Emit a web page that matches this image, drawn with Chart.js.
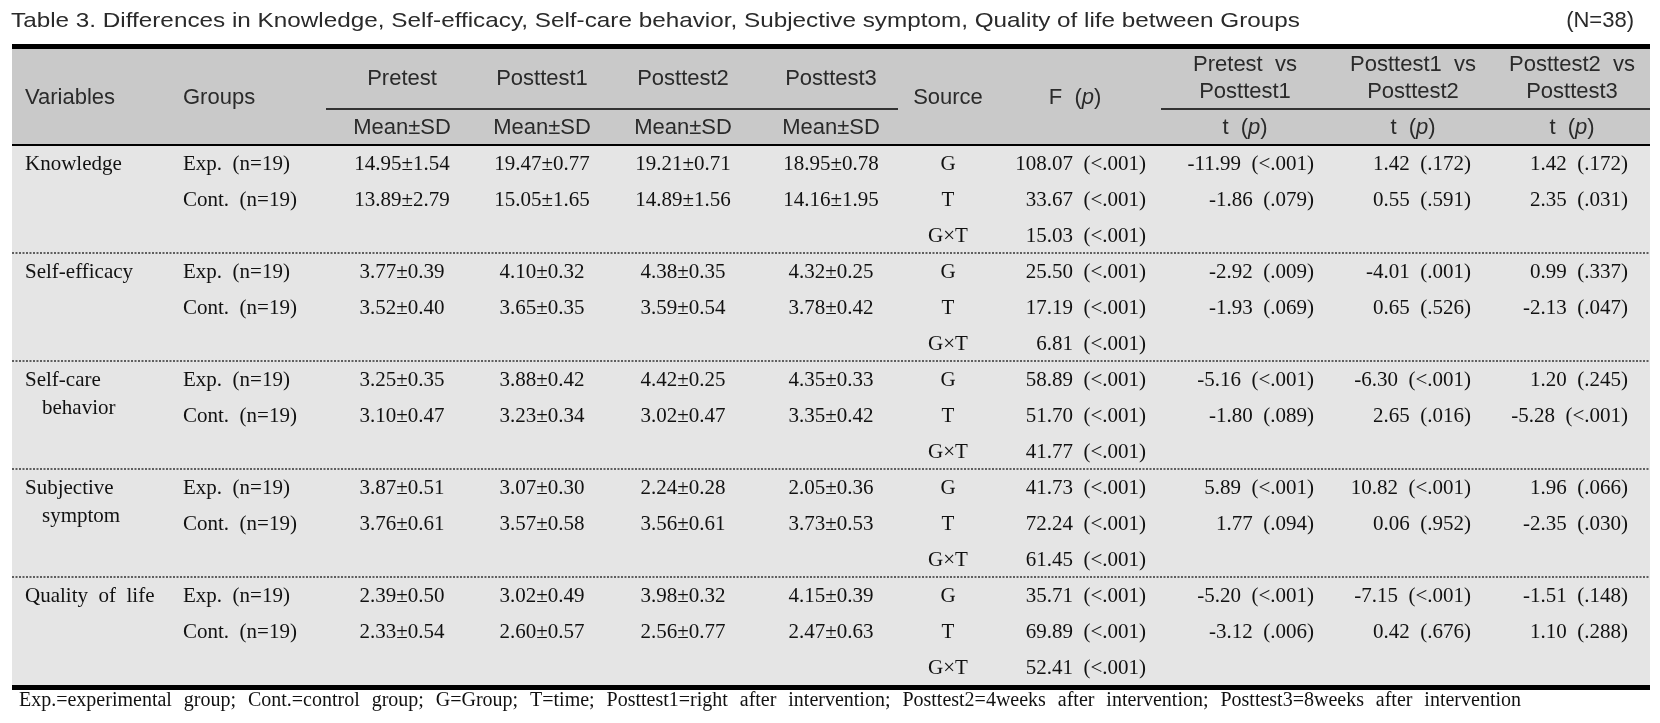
<!DOCTYPE html>
<html lang="en">
<head>
<meta charset="UTF-8">
<title>Table 3</title>
<script src="https://cdn.jsdelivr.net/npm/chart.js"></script>
<style>
  body { margin: 0; background: #fff; }
  canvas { display: block; }
</style>
</head>
<body>
<canvas id="table" width="1660" height="723"></canvas>
<script>
// ---- table content ----
const titleText = 'Table 3. Differences in Knowledge, Self-efficacy, Self-care behavior, Subjective symptom, Quality of life between Groups';
const sampleText = '(N=38)';
const footText = 'Exp.=experimental group; Cont.=control group; G=Group; T=time; Posttest1=right after intervention; Posttest2=4weeks after intervention; Posttest3=8weeks after intervention';

const variables = [['Knowledge'], ['Self-efficacy'], ['Self-care', 'behavior'], ['Subjective', 'symptom'], ['Quality  of  life']];
const groups = ['Exp.  (n=19)', 'Cont.  (n=19)'];
const sources = ['G', 'T', 'G×T'];
const timeLabels = ['Pretest', 'Posttest1', 'Posttest2', 'Posttest3'];
const compareLabels = [['Pretest  vs', 'Posttest1'], ['Posttest1  vs', 'Posttest2'], ['Posttest2  vs', 'Posttest3']];

// rows: Knowledge Exp, Knowledge Cont, Self-efficacy Exp, ... Quality of life Cont
const pretestMean = [14.95, 13.89, 3.77, 3.52, 3.25, 3.10, 3.87, 3.76, 2.39, 2.33];
const pretestSD   = [1.54, 2.79, 0.39, 0.40, 0.35, 0.47, 0.51, 0.61, 0.50, 0.54];
const post1Mean   = [19.47, 15.05, 4.10, 3.65, 3.88, 3.23, 3.07, 3.57, 3.02, 2.60];
const post1SD     = [0.77, 1.65, 0.32, 0.35, 0.42, 0.34, 0.30, 0.58, 0.49, 0.57];
const post2Mean   = [19.21, 14.89, 4.38, 3.59, 4.42, 3.02, 2.24, 3.56, 3.98, 2.56];
const post2SD     = [0.71, 1.56, 0.35, 0.54, 0.25, 0.47, 0.28, 0.61, 0.32, 0.77];
const post3Mean   = [18.95, 14.16, 4.32, 3.78, 4.35, 3.35, 2.05, 3.73, 4.15, 2.47];
const post3SD     = [0.78, 1.95, 0.25, 0.42, 0.33, 0.42, 0.36, 0.53, 0.39, 0.63];

// F per variable: G, T, GxT
const fValues = [108.07, 33.67, 15.03, 25.50, 17.19, 6.81, 58.89, 51.70, 41.77, 41.73, 72.24, 61.45, 35.71, 69.89, 52.41];
const fP      = ['<.001', '<.001', '<.001', '<.001', '<.001', '<.001', '<.001', '<.001', '<.001', '<.001', '<.001', '<.001', '<.001', '<.001', '<.001'];

// paired t: rows as in the means
const t1Values = [-11.99, -1.86, -2.92, -1.93, -5.16, -1.80, 5.89, 1.77, -5.20, -3.12];
const t1P      = ['<.001', '.079', '.009', '.069', '<.001', '.089', '<.001', '.094', '<.001', '.006'];
const t2Values = [1.42, 0.55, -4.01, 0.65, -6.30, 2.65, 10.82, 0.06, -7.15, 0.42];
const t2P      = ['.172', '.591', '.001', '.526', '<.001', '.016', '<.001', '.952', '<.001', '.676'];
const t3Values = [1.42, 2.35, 0.99, -2.13, 1.20, -5.28, 1.96, -2.35, -1.51, 1.10];
const t3P      = ['.172', '.031', '.337', '.047', '.245', '<.001', '.066', '.030', '.148', '.288'];

// ---- layout ----
const W = 1660, H = 723;
const tableL = 12, tableR = 1650;
const headTop = 49, subLineY = 109, headBottom = 145;
const blockH = 108, rowGap = 35.8, firstRowOff = 19.5;
const bodyBottom = headBottom + 5 * blockH;
const varX = 25, groupX = 183;
const meanX = [402, 542, 683, 831];
const sourceX = 948, fRight = 1146, fHeadX = 1075;
const tRight = [1314, 1471, 1628];
const tHeadX = [1245, 1413, 1572];
const headLine1 = 65, headLine2 = 92, headMid = 98, headSub = 128;

const SANS = '"Liberation Sans", Arial, sans-serif';
const SERIF = '"Liberation Serif", "Times New Roman", serif';

const rowY = (v, i) => headBottom + v * blockH + firstRowOff + i * rowGap;
const fmt = v => v.toFixed(2);

// ---- cells (one point per text) ----
const cells = [];
const add = (x, y, text, style, align) => cells.push({ x, y, text, style, align });

add(11, 21, titleText, 'title', 'left');
add(1634, 21, sampleText, 'head', 'right');
add(varX, headMid, 'Variables', 'head', 'left');
add(groupX, headMid, 'Groups', 'head', 'left');
timeLabels.forEach((t, i) => {
  add(meanX[i], 79, t, 'head', 'center');
  add(meanX[i], headSub, 'Mean±SD', 'head', 'center');
});
add(sourceX, headMid, 'Source', 'head', 'center');
add(fHeadX, headMid, 'F  (*p*)', 'head', 'center');
compareLabels.forEach((c, i) => {
  add(tHeadX[i], headLine1, c[0], 'head', 'center');
  add(tHeadX[i], headLine2, c[1], 'head', 'center');
  add(tHeadX[i], headSub, 't  (*p*)', 'head', 'center');
});

const means = [[pretestMean, pretestSD], [post1Mean, post1SD], [post2Mean, post2SD], [post3Mean, post3SD]];
const tests = [[t1Values, t1P], [t2Values, t2P], [t3Values, t3P]];
variables.forEach((lines, v) => {
  add(varX, rowY(v, 0), lines[0], 'body', 'left');
  if (lines[1]) add(varX + 17, rowY(v, 0) + 28, lines[1], 'body', 'left');
  sources.forEach((s, k) => {
    add(sourceX, rowY(v, k), s, 'body', 'center');
    const f = v * 3 + k;
    add(fRight, rowY(v, k), fmt(fValues[f]) + '  (' + fP[f] + ')', 'body', 'right');
  });
  groups.forEach((g, k) => {
    const r = v * 2 + k;
    add(groupX, rowY(v, k), g, 'body', 'left');
    means.forEach(([m, sd], i) => add(meanX[i], rowY(v, k), fmt(m[r]) + '±' + fmt(sd[r]), 'body', 'center'));
    tests.forEach(([tv, tp], i) => add(tRight[i], rowY(v, k), fmt(tv[r]) + '  (' + tp[r] + ')', 'body', 'right'));
  });
});
add(19, 701, footText, 'foot', 'left');

// ---- drawing ----
const fonts = {
  title: ['21px ' + SANS, 'italic 21px ' + SANS],
  head: ['22px ' + SANS, 'italic 22px ' + SANS],
  body: ['21px ' + SERIF, 'italic 21px ' + SERIF],
  foot: ['20px ' + SERIF, 'italic 20px ' + SERIF]
};
const fitWidth = { title: 1289 };
const justifyWidth = { foot: 1502 };

function drawRich(ctx, cell, px, py) {
  const [norm, ital] = fonts[cell.style];
  const parts = cell.text.split('*').map((t, i) => ({ t, font: i % 2 ? ital : norm }));
  let w = 0;
  parts.forEach(p => { ctx.font = p.font; p.w = ctx.measureText(p.t).width; w += p.w; });
  ctx.save();
  ctx.textBaseline = 'middle';
  ctx.textAlign = 'left';
  ctx.fillStyle = cell.style === 'body' || cell.style === 'foot' ? '#111' : '#2a2a2a';
  if (justifyWidth[cell.style]) {
    ctx.font = norm;
    const words = cell.text.split(' ');
    const wordsW = words.reduce((s, t) => s + ctx.measureText(t).width, 0);
    const gap = (justifyWidth[cell.style] - wordsW) / (words.length - 1);
    let cx = px;
    words.forEach(t => { ctx.fillText(t, cx, py); cx += ctx.measureText(t).width + gap; });
    ctx.restore();
    return;
  }
  let sx = 1;
  if (fitWidth[cell.style]) { sx = fitWidth[cell.style] / w; }
  let x0 = cell.align === 'center' ? px - w * sx / 2 : cell.align === 'right' ? px - w * sx : px;
  ctx.translate(x0, py);
  ctx.scale(sx, 1);
  let cx = 0;
  parts.forEach(p => { ctx.font = p.font; ctx.fillText(p.t, cx, 0); cx += p.w; });
  ctx.restore();
}

const tablePlugin = {
  id: 'tablePlugin',
  beforeDatasetsDraw(chart) {
    const { ctx, scales: { x, y } } = chart;
    const hline = (x1, x2, yy, lw, dash) => {
      ctx.beginPath();
      ctx.lineWidth = lw;
      ctx.setLineDash(dash || []);
      ctx.moveTo(x.getPixelForValue(x1), y.getPixelForValue(yy));
      ctx.lineTo(x.getPixelForValue(x2), y.getPixelForValue(yy));
      ctx.stroke();
    };
    ctx.save();
    ctx.fillStyle = '#fff';
    ctx.fillRect(0, 0, chart.width, chart.height);
    const l = x.getPixelForValue(tableL), r = x.getPixelForValue(tableR);
    ctx.fillStyle = '#c9c9c9';
    ctx.fillRect(l, y.getPixelForValue(headTop), r - l, y.getPixelForValue(headBottom) - y.getPixelForValue(headTop));
    ctx.fillStyle = '#e5e5e5';
    ctx.fillRect(l, y.getPixelForValue(headBottom), r - l, y.getPixelForValue(bodyBottom) - y.getPixelForValue(headBottom));
    ctx.strokeStyle = '#000';
    hline(tableL, tableR, headTop - 2.5, 5);
    hline(tableL, tableR, bodyBottom + 2.5, 5);
    hline(326, 898, subLineY, 1.5);
    hline(1161, tableR, subLineY, 1.5);
    hline(tableL, tableR, headBottom, 2);
    ctx.strokeStyle = '#333';
    for (let v = 1; v < 5; v++) hline(tableL, tableR, headBottom + v * blockH, 1.3, [2, 1.5]);
    ctx.restore();
  },
  afterDatasetsDraw(chart) {
    const { ctx } = chart;
    chart.data.datasets.forEach((ds, i) => {
      chart.getDatasetMeta(i).data.forEach((el, j) => drawRich(ctx, ds.data[j], el.x, el.y));
    });
  }
};

new Chart(document.getElementById('table'), {
  type: 'scatter',
  data: { datasets: [{ data: cells, pointRadius: 0, pointHoverRadius: 0 }] },
  options: {
    responsive: false,
    animation: false,
    devicePixelRatio: 1,
    layout: { padding: 0 },
    events: [],
    plugins: { legend: { display: false }, tooltip: { enabled: false } },
    scales: {
      x: { type: 'linear', min: 0, max: W, display: false },
      y: { type: 'linear', min: 0, max: H, reverse: true, display: false }
    }
  },
  plugins: [tablePlugin]
});
</script>
</body>
</html>
